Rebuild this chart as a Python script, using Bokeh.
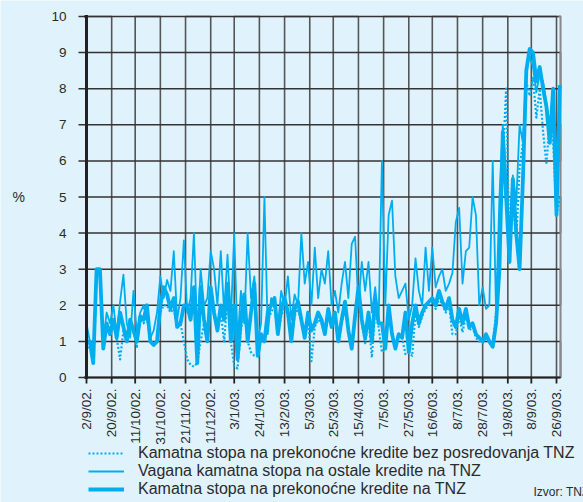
import math
from bokeh.plotting import figure
from bokeh.models import Range1d, Legend, LegendItem, Label
from bokeh.core.properties import value
from bokeh.embed import file_html
from bokeh.resources import INLINE

# ---------------- data ----------------
tick_labels = ["2/9/02.", "20/9/02.", "11/10/02.", "31/10/02.", "21/11/02.", "11/12/02.",
               "3/1/03.", "24/1/03.", "13/2/03.", "5/3/03.", "25/3/03.", "15/4/03.",
               "7/5/03.", "27/5/03.", "16/6/03.", "8/7/03.", "28/7/03.", "19/8/03.",
               "8/9/03.", "26/9/03."]
tick_obs = [0, 15, 29, 44, 59, 74, 88, 103, 118, 133, 147, 162, 177, 192, 206, 221, 236, 251, 265, 280]
y_ticks = [0, 1, 2, 3, 4, 5, 6, 7, 8, 9, 10]
y_tick_labels = ["0", "1", "2", "3", "4", "5", "6", "7", "8", "9", "10"]

obs = list(range(0, 284, 2))

overnight_tnz = [
    1.0, 1.0, 0.4, 3.0, 3.0, 0.8, 1.5, 1.2, 1.6, 1.1,
    1.8, 1.4, 1.0, 1.6, 1.3, 1.0, 1.7, 1.6, 2.0, 1.0,
    0.9, 1.0, 2.0, 2.5, 2.3, 1.9, 2.2, 1.4, 1.5, 2.0,
    2.0, 1.6, 2.5, 0.4, 2.5, 1.6, 1.0, 2.5, 1.8, 1.3,
    2.0, 1.6, 2.6, 1.0, 2.0, 0.5, 1.6, 2.3, 1.0, 1.8,
    2.6, 0.6, 1.2, 1.0, 1.8, 2.0, 2.2, 1.2, 1.9, 2.2,
    1.8, 1.0, 1.9, 2.1, 1.6, 1.1, 1.8, 1.3, 1.5, 1.8,
    1.6, 1.2, 1.9, 1.4, 1.8, 1.0, 1.6, 2.1, 1.3, 0.8,
    1.7, 2.5, 1.6, 1.1, 1.8, 1.0, 2.2, 1.5, 1.5, 0.8,
    2.0, 1.2, 0.8, 1.2, 1.1, 1.8, 0.7, 1.5, 2.0, 1.5,
    1.8, 2.0, 2.1, 2.2, 2.0, 2.4, 2.1, 1.9, 2.2, 1.6,
    1.4, 1.9, 1.5, 1.9, 1.4, 1.5, 1.2, 1.1, 1.0, 1.2,
    1.0, 0.85, 1.5, 3.0, 6.8, 5.0, 3.2, 5.5, 4.0, 3.0,
    5.5, 8.5, 9.1, 9.0, 8.2, 8.6, 8.0, 7.5, 6.5, 8.0,
    4.5, 8.1]

weighted_other = [
    1.5, 1.0, 0.5, 3.0, 3.0, 1.0, 1.8, 1.5, 2.0, 1.2,
    2.1, 2.85, 1.5, 1.1, 2.4, 1.2, 1.8, 2.0, 1.6, 1.1,
    1.3, 1.8, 2.8, 2.2, 2.7, 2.4, 3.5, 1.6, 2.2, 3.8,
    1.8, 2.2, 4.0, 1.2, 3.0, 2.0, 2.2, 3.5, 3.0, 2.0,
    3.5, 1.8, 3.4, 1.6, 4.0, 1.0, 2.4, 1.5, 4.0, 2.2,
    2.8, 1.0, 1.5, 5.0, 1.2, 2.2, 2.1, 1.4, 2.4, 2.0,
    2.8, 1.6, 2.3, 2.0, 4.0, 2.6, 3.2, 2.0, 3.6, 2.2,
    3.0, 2.6, 3.5, 2.0, 2.4, 1.8, 2.6, 3.2, 2.2, 3.7,
    3.9, 2.0, 3.2, 2.4, 3.2, 1.8, 2.5, 1.5, 6.0, 2.0,
    4.5, 4.9, 2.8, 2.2, 2.4, 2.6, 1.6, 2.0, 3.3, 2.4,
    2.0, 3.6, 2.4, 3.6, 2.5, 2.8, 3.0, 2.4, 2.6, 2.9,
    4.3, 4.7, 2.6, 3.5, 3.6, 5.0, 4.5, 2.0, 2.5, 1.9,
    2.0, 6.0, 1.8, 5.0, 7.0, 5.5, 4.0, 5.6, 4.8, 7.0,
    6.5, 8.5, 8.9, 8.6, 7.9, 8.4, 8.2, 7.6, 7.0, 8.0,
    4.6, 8.0]

overnight_direct = [
    0.7, 1.0, 0.4, 2.9, 2.9, 0.8, 1.4, 1.2, 1.5, 1.1,
    0.5, 1.3, 1.0, 1.5, 1.3, 0.85, 1.6, 1.5, 1.8, 1.0,
    0.9, 1.0, 1.8, 2.0, 2.0, 1.8, 1.9, 1.4, 1.5, 1.0,
    0.5, 0.35, 0.3, 0.4, 1.0, 1.5, 1.0, 2.2, 1.7, 1.3,
    1.8, 1.0, 2.2, 1.0, 0.3, 0.25, 1.3, 2.0, 1.0, 0.7,
    0.6, 0.6, 1.1, 1.0, 1.6, 1.8, 2.0, 1.2, 1.7, 2.0,
    1.7, 1.0, 1.7, 1.9, 1.5, 1.1, 1.6, 0.45, 1.4, 1.6,
    1.5, 1.2, 1.7, 1.4, 1.7, 1.0, 1.5, 1.9, 1.3, 0.8,
    1.6, 2.2, 1.5, 0.95, 1.6, 0.55, 1.9, 1.4, 0.7, 0.8,
    1.8, 1.2, 0.8, 1.2, 1.1, 0.65, 0.7, 0.6, 1.8, 1.4,
    1.7, 1.9, 2.0, 2.1, 1.9, 2.2, 2.0, 1.8, 2.0, 1.2,
    1.2, 1.7, 1.25, 1.7, 1.3, 1.4, 1.1, 1.0, 0.95, 1.1,
    1.0, 0.9, 1.8, 4.0, 6.0, 8.0, 3.5, 5.0, 3.8, 5.8,
    6.5, 8.2, 7.8, 8.3, 7.2, 8.0, 6.8, 5.9, 7.2, 6.5,
    4.5, 5.0]

series_labels = ["Kamatna stopa na prekonoćne kredite bez posredovanja TNZ",
                 "Vagana kamatna stopa na ostale kredite na TNZ",
                 "Kamatna stopa na prekonoćne kredite na TNZ"]
unit_text = "%"
source_text = "Izvor: TNZ"

# ---------------- layout constants ----------------
BG = "#E0F2FC"
LINE = "#00AEEF"
TXT = "#2b2b2b"
FONT = "Liberation Sans"
W, H = 583, 502
LEFT_PX, ZERO_PX = 86, 377          # chart origin on the canvas
PX_PER_OBS = 1.6786                 # horizontal scale
PX_PER_PCT = 36.1                   # vertical scale
X_END = 282.4                       # right edge of the chart area (obs units)
STYLES = [dict(line_width=2.2, line_dash="2 2"), dict(line_width=1.8), dict(line_width=3.8)]

def dx(px):
    return px / PX_PER_OBS

def dy(px):
    return px / PX_PER_PCT

Y0, Y1 = y_ticks[0], y_ticks[-1]

p = figure(width=W, height=H,
           x_range=Range1d(-dx(LEFT_PX), dx(W - LEFT_PX)),
           y_range=Range1d(-dy(H - ZERO_PX), dy(ZERO_PX)),
           x_axis_location=None, y_axis_location=None,
           output_backend="svg", toolbar_location=None, min_border=0,
           background_fill_color=BG, border_fill_color=BG)
p.outline_line_color = None
p.grid.visible = False

# vertical grid lines as one continuous path built from the tick positions
vx, vy = [], []
for i, t in enumerate(tick_obs):
    vx += [t, t]
    vy += [Y0, Y1] if i % 2 == 0 else [Y1, Y0]
p.line(vx, vy, line_color="#555555", line_width=1.6, line_join="round")

# horizontal grid lines as one continuous path
hx, hy = [], []
for j, v in enumerate(y_ticks):
    hx += [0, X_END] if j % 2 == 0 else [X_END, 0]
    hy += [v, v]
p.line(hx, hy, line_color="#333333", line_width=1.5, line_join="round")

# right border
p.line([X_END, X_END, X_END - dx(2)], [Y0, Y1, Y1], line_color="#888888", line_width=2,
       line_join="round")

# data lines
renderers = []
for vals, st in zip([overnight_direct, weighted_other, overnight_tnz], STYLES):
    renderers.append(p.line(obs, vals, line_color=LINE, line_join="round", **st))

# x axis line with tick marks
ax_x, ax_y = [0], [0]
for t in tick_obs:
    ax_x += [t, t, t]
    ax_y += [0, -dy(6), 0]
ax_x.append(X_END)
ax_y.append(0)
p.line(ax_x, ax_y, line_color="#222222", line_width=1.8, line_join="bevel")
p.text(x=tick_obs, y=[-dy(11)] * len(tick_obs), text=tick_labels, angle=math.pi / 2,
       text_align="right", text_baseline="middle", text_font=value(FONT),
       text_font_size="13.5px", text_color=TXT)

# y axis line with tick marks
yt_x, yt_y = [], []
for v in reversed(y_ticks):
    yt_x += [0, -dx(8), 0]
    yt_y += [v, v, v]
p.line(yt_x, yt_y, line_color="#333333", line_width=1.5, line_join="bevel")
p.line([-dx(2), 0, 0, -dx(2)], [Y1, Y1, Y0, Y0], line_color="#222222", line_width=3,
       line_join="miter")
p.text(x=[-dx(20)] * len(y_ticks), y=y_ticks, text=y_tick_labels,
       text_align="right", text_baseline="middle", text_font=value(FONT),
       text_font_size="13.5px", text_color=TXT)
p.add_layout(Label(x=-dx(74), y=5, text=unit_text, text_align="left", text_baseline="middle",
                   text_font=FONT, text_font_size="14px", text_color=TXT))

legend = Legend(items=[LegendItem(label=lab, renderers=[r]) for lab, r in zip(series_labels, renderers)],
                location=(88, 4), orientation="vertical",
                label_text_font=FONT, label_text_font_size="16px", label_text_color=TXT,
                label_height=16, glyph_height=16, glyph_width=36, label_standoff=14,
                spacing=0, padding=0, margin=0,
                border_line_alpha=0, background_fill_alpha=0)
p.add_layout(legend)

p.add_layout(Label(x=dx(533 - LEFT_PX), y=-dy(498 - ZERO_PX), text=source_text, text_font=FONT,
                   text_font_size="12px", text_color=TXT))

open("out.html", "w").write(file_html(p, INLINE))
